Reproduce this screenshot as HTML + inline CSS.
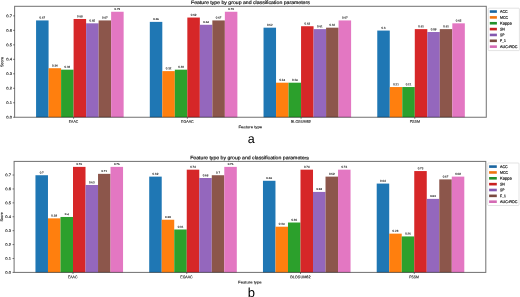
<!DOCTYPE html>
<html><head><meta charset="utf-8"><style>
html,body{margin:0;padding:0;background:#fff;width:520px;height:297px;overflow:hidden}
svg{display:block;will-change:transform}
text{font-family:"Liberation Sans",sans-serif;text-rendering:geometricPrecision}
.s{stroke:#333;stroke-width:0.14px}

.s3{stroke:#222;stroke-width:0.2px}

.s4{stroke:#222;stroke-width:0.2px}
.s2{stroke:#333;stroke-width:0.12px}
</style></head><body>
<svg width="520" height="297" viewBox="0 0 520 297">
<rect width="520" height="297" fill="#fff"/>
<rect x="36.07" y="20.43" width="12.51" height="96.82" fill="#1f77b4"/>
<rect x="48.58" y="68.22" width="12.51" height="49.03" fill="#ff7f0e"/>
<rect x="61.09" y="69.67" width="12.51" height="47.58" fill="#2ca02c"/>
<rect x="73.60" y="18.99" width="12.51" height="98.26" fill="#d62728"/>
<rect x="86.11" y="23.33" width="12.51" height="93.92" fill="#9467bd"/>
<rect x="98.62" y="20.43" width="12.51" height="96.82" fill="#8c564b"/>
<rect x="111.13" y="11.75" width="12.51" height="105.50" fill="#e377c2"/>
<rect x="149.80" y="21.88" width="12.51" height="95.37" fill="#1f77b4"/>
<rect x="162.31" y="71.11" width="12.51" height="46.14" fill="#ff7f0e"/>
<rect x="174.82" y="69.67" width="12.51" height="47.58" fill="#2ca02c"/>
<rect x="187.33" y="17.54" width="12.51" height="99.71" fill="#d62728"/>
<rect x="199.84" y="24.78" width="12.51" height="92.47" fill="#9467bd"/>
<rect x="212.35" y="20.43" width="12.51" height="96.82" fill="#8c564b"/>
<rect x="224.86" y="11.75" width="12.51" height="105.50" fill="#e377c2"/>
<rect x="263.53" y="27.67" width="12.51" height="89.58" fill="#1f77b4"/>
<rect x="276.04" y="82.70" width="12.51" height="34.55" fill="#ff7f0e"/>
<rect x="288.55" y="82.70" width="12.51" height="34.55" fill="#2ca02c"/>
<rect x="301.06" y="26.23" width="12.51" height="91.02" fill="#d62728"/>
<rect x="313.57" y="29.12" width="12.51" height="88.13" fill="#9467bd"/>
<rect x="326.08" y="27.67" width="12.51" height="89.58" fill="#8c564b"/>
<rect x="338.59" y="20.43" width="12.51" height="96.82" fill="#e377c2"/>
<rect x="377.26" y="30.57" width="12.51" height="86.68" fill="#1f77b4"/>
<rect x="389.77" y="87.04" width="12.51" height="30.21" fill="#ff7f0e"/>
<rect x="402.28" y="87.04" width="12.51" height="30.21" fill="#2ca02c"/>
<rect x="414.79" y="29.12" width="12.51" height="88.13" fill="#d62728"/>
<rect x="427.30" y="32.02" width="12.51" height="85.23" fill="#9467bd"/>
<rect x="439.81" y="29.12" width="12.51" height="88.13" fill="#8c564b"/>
<rect x="452.32" y="23.33" width="12.51" height="93.92" fill="#e377c2"/>
<text x="42.32" y="18.61" font-size="2.703" text-anchor="middle" textLength="5.68" lengthAdjust="spacingAndGlyphs" fill="#222" class="s2" transform="rotate(0.05 42.32 18.61)">0.67</text>
<text x="54.83" y="66.40" font-size="2.703" text-anchor="middle" textLength="5.68" lengthAdjust="spacingAndGlyphs" fill="#222" class="s2" transform="rotate(0.05 54.83 66.40)">0.34</text>
<text x="67.34" y="67.85" font-size="2.703" text-anchor="middle" textLength="5.68" lengthAdjust="spacingAndGlyphs" fill="#222" class="s2" transform="rotate(0.05 67.34 67.85)">0.33</text>
<text x="79.86" y="17.17" font-size="2.703" text-anchor="middle" textLength="5.68" lengthAdjust="spacingAndGlyphs" fill="#222" class="s2" transform="rotate(0.05 79.86 17.17)">0.68</text>
<text x="92.37" y="21.51" font-size="2.703" text-anchor="middle" textLength="5.68" lengthAdjust="spacingAndGlyphs" fill="#222" class="s2" transform="rotate(0.05 92.37 21.51)">0.65</text>
<text x="104.88" y="18.61" font-size="2.703" text-anchor="middle" textLength="5.68" lengthAdjust="spacingAndGlyphs" fill="#222" class="s2" transform="rotate(0.05 104.88 18.61)">0.67</text>
<text x="117.39" y="9.93" font-size="2.703" text-anchor="middle" textLength="5.68" lengthAdjust="spacingAndGlyphs" fill="#222" class="s2" transform="rotate(0.05 117.39 9.93)">0.73</text>
<text x="156.05" y="20.06" font-size="2.703" text-anchor="middle" textLength="5.68" lengthAdjust="spacingAndGlyphs" fill="#222" class="s2" transform="rotate(0.05 156.05 20.06)">0.66</text>
<text x="168.56" y="69.29" font-size="2.703" text-anchor="middle" textLength="5.68" lengthAdjust="spacingAndGlyphs" fill="#222" class="s2" transform="rotate(0.05 168.56 69.29)">0.32</text>
<text x="181.07" y="67.85" font-size="2.703" text-anchor="middle" textLength="5.68" lengthAdjust="spacingAndGlyphs" fill="#222" class="s2" transform="rotate(0.05 181.07 67.85)">0.33</text>
<text x="193.59" y="15.72" font-size="2.703" text-anchor="middle" textLength="5.68" lengthAdjust="spacingAndGlyphs" fill="#222" class="s2" transform="rotate(0.05 193.59 15.72)">0.69</text>
<text x="206.10" y="22.96" font-size="2.703" text-anchor="middle" textLength="5.68" lengthAdjust="spacingAndGlyphs" fill="#222" class="s2" transform="rotate(0.05 206.10 22.96)">0.64</text>
<text x="218.61" y="18.61" font-size="2.703" text-anchor="middle" textLength="5.68" lengthAdjust="spacingAndGlyphs" fill="#222" class="s2" transform="rotate(0.05 218.61 18.61)">0.67</text>
<text x="231.12" y="9.93" font-size="2.703" text-anchor="middle" textLength="5.68" lengthAdjust="spacingAndGlyphs" fill="#222" class="s2" transform="rotate(0.05 231.12 9.93)">0.73</text>
<text x="269.78" y="25.85" font-size="2.703" text-anchor="middle" textLength="5.68" lengthAdjust="spacingAndGlyphs" fill="#222" class="s2" transform="rotate(0.05 269.78 25.85)">0.62</text>
<text x="282.29" y="80.88" font-size="2.703" text-anchor="middle" textLength="5.68" lengthAdjust="spacingAndGlyphs" fill="#222" class="s2" transform="rotate(0.05 282.29 80.88)">0.24</text>
<text x="294.80" y="80.88" font-size="2.703" text-anchor="middle" textLength="5.68" lengthAdjust="spacingAndGlyphs" fill="#222" class="s2" transform="rotate(0.05 294.80 80.88)">0.24</text>
<text x="307.32" y="24.41" font-size="2.703" text-anchor="middle" textLength="5.68" lengthAdjust="spacingAndGlyphs" fill="#222" class="s2" transform="rotate(0.05 307.32 24.41)">0.63</text>
<text x="319.83" y="27.30" font-size="2.703" text-anchor="middle" textLength="5.68" lengthAdjust="spacingAndGlyphs" fill="#222" class="s2" transform="rotate(0.05 319.83 27.30)">0.61</text>
<text x="332.34" y="25.85" font-size="2.703" text-anchor="middle" textLength="5.68" lengthAdjust="spacingAndGlyphs" fill="#222" class="s2" transform="rotate(0.05 332.34 25.85)">0.62</text>
<text x="344.85" y="18.61" font-size="2.703" text-anchor="middle" textLength="5.68" lengthAdjust="spacingAndGlyphs" fill="#222" class="s2" transform="rotate(0.05 344.85 18.61)">0.67</text>
<text x="383.51" y="28.75" font-size="2.703" text-anchor="middle" textLength="4.06" lengthAdjust="spacingAndGlyphs" fill="#222" class="s2" transform="rotate(0.05 383.51 28.75)">0.6</text>
<text x="396.02" y="85.22" font-size="2.703" text-anchor="middle" textLength="5.68" lengthAdjust="spacingAndGlyphs" fill="#222" class="s2" transform="rotate(0.05 396.02 85.22)">0.21</text>
<text x="408.53" y="85.22" font-size="2.703" text-anchor="middle" textLength="5.68" lengthAdjust="spacingAndGlyphs" fill="#222" class="s2" transform="rotate(0.05 408.53 85.22)">0.21</text>
<text x="421.05" y="27.30" font-size="2.703" text-anchor="middle" textLength="5.68" lengthAdjust="spacingAndGlyphs" fill="#222" class="s2" transform="rotate(0.05 421.05 27.30)">0.61</text>
<text x="433.56" y="30.20" font-size="2.703" text-anchor="middle" textLength="5.68" lengthAdjust="spacingAndGlyphs" fill="#222" class="s2" transform="rotate(0.05 433.56 30.20)">0.59</text>
<text x="446.07" y="27.30" font-size="2.703" text-anchor="middle" textLength="5.68" lengthAdjust="spacingAndGlyphs" fill="#222" class="s2" transform="rotate(0.05 446.07 27.30)">0.61</text>
<text x="458.58" y="21.51" font-size="2.703" text-anchor="middle" textLength="5.68" lengthAdjust="spacingAndGlyphs" fill="#222" class="s2" transform="rotate(0.05 458.58 21.51)">0.65</text>
<rect x="14.63" y="6.30" width="471.64" height="110.95" fill="none" stroke="#000" stroke-opacity="0.56" stroke-width="1.0"/>
<line x1="13.03" y1="117.25" x2="14.63" y2="117.25" stroke="#000" stroke-opacity="0.6" stroke-width="0.8"/>
<text x="12.03" y="118.56" font-size="3.816" text-anchor="end" textLength="5.73" lengthAdjust="spacingAndGlyphs" fill="#222" class="s" transform="rotate(0.05 12.03 118.56)">0.0</text>
<line x1="13.03" y1="102.77" x2="14.63" y2="102.77" stroke="#000" stroke-opacity="0.6" stroke-width="0.8"/>
<text x="12.03" y="104.08" font-size="3.816" text-anchor="end" textLength="5.73" lengthAdjust="spacingAndGlyphs" fill="#222" class="s" transform="rotate(0.05 12.03 104.08)">0.1</text>
<line x1="13.03" y1="88.29" x2="14.63" y2="88.29" stroke="#000" stroke-opacity="0.6" stroke-width="0.8"/>
<text x="12.03" y="89.60" font-size="3.816" text-anchor="end" textLength="5.73" lengthAdjust="spacingAndGlyphs" fill="#222" class="s" transform="rotate(0.05 12.03 89.60)">0.2</text>
<line x1="13.03" y1="73.81" x2="14.63" y2="73.81" stroke="#000" stroke-opacity="0.6" stroke-width="0.8"/>
<text x="12.03" y="75.12" font-size="3.816" text-anchor="end" textLength="5.73" lengthAdjust="spacingAndGlyphs" fill="#222" class="s" transform="rotate(0.05 12.03 75.12)">0.3</text>
<line x1="13.03" y1="59.33" x2="14.63" y2="59.33" stroke="#000" stroke-opacity="0.6" stroke-width="0.8"/>
<text x="12.03" y="60.64" font-size="3.816" text-anchor="end" textLength="5.73" lengthAdjust="spacingAndGlyphs" fill="#222" class="s" transform="rotate(0.05 12.03 60.64)">0.4</text>
<line x1="13.03" y1="44.85" x2="14.63" y2="44.85" stroke="#000" stroke-opacity="0.6" stroke-width="0.8"/>
<text x="12.03" y="46.16" font-size="3.816" text-anchor="end" textLength="5.73" lengthAdjust="spacingAndGlyphs" fill="#222" class="s" transform="rotate(0.05 12.03 46.16)">0.5</text>
<line x1="13.03" y1="30.37" x2="14.63" y2="30.37" stroke="#000" stroke-opacity="0.6" stroke-width="0.8"/>
<text x="12.03" y="31.68" font-size="3.816" text-anchor="end" textLength="5.73" lengthAdjust="spacingAndGlyphs" fill="#222" class="s" transform="rotate(0.05 12.03 31.68)">0.6</text>
<line x1="13.03" y1="15.89" x2="14.63" y2="15.89" stroke="#000" stroke-opacity="0.6" stroke-width="0.8"/>
<text x="12.03" y="17.20" font-size="3.816" text-anchor="end" textLength="5.73" lengthAdjust="spacingAndGlyphs" fill="#222" class="s" transform="rotate(0.05 12.03 17.20)">0.7</text>
<line x1="73.60" y1="117.25" x2="73.60" y2="118.85" stroke="#000" stroke-opacity="0.6" stroke-width="0.8"/>
<text x="73.50" y="122.66" font-size="3.816" text-anchor="middle" textLength="9.30" lengthAdjust="spacingAndGlyphs" fill="#222" class="s" transform="rotate(0.05 73.50 122.66)">EAAC</text>
<line x1="187.33" y1="117.25" x2="187.33" y2="118.85" stroke="#000" stroke-opacity="0.6" stroke-width="0.8"/>
<text x="187.40" y="122.66" font-size="3.816" text-anchor="middle" textLength="12.60" lengthAdjust="spacingAndGlyphs" fill="#222" class="s" transform="rotate(0.05 187.40 122.66)">EGAAC</text>
<line x1="301.06" y1="117.25" x2="301.06" y2="118.85" stroke="#000" stroke-opacity="0.6" stroke-width="0.8"/>
<text x="300.85" y="122.66" font-size="3.816" text-anchor="middle" textLength="20.10" lengthAdjust="spacingAndGlyphs" fill="#222" class="s" transform="rotate(0.05 300.85 122.66)">BLOSUM62</text>
<line x1="414.79" y1="117.25" x2="414.79" y2="118.85" stroke="#000" stroke-opacity="0.6" stroke-width="0.8"/>
<text x="414.85" y="122.66" font-size="3.816" text-anchor="middle" textLength="10.30" lengthAdjust="spacingAndGlyphs" fill="#222" class="s" transform="rotate(0.05 414.85 122.66)">PSSM</text>
<text x="250.30" y="128.21" font-size="3.816" text-anchor="middle" textLength="23.80" lengthAdjust="spacingAndGlyphs" fill="#222" class="s" transform="rotate(0.05 250.30 128.21)">Feature type</text>
<text x="0" y="1.31" font-size="3.816" text-anchor="middle" textLength="10.10" lengthAdjust="spacingAndGlyphs" fill="#222" class="s" transform="translate(2.00,62.00) rotate(-89.95)">Score</text>
<text x="250.40" y="4.04" font-size="4.770" text-anchor="middle" textLength="118.80" lengthAdjust="spacingAndGlyphs" fill="#111" class="s4" transform="rotate(0.05 250.40 4.04)">Feature type by group and classification parameters</text>
<rect x="488.20" y="8.20" width="31.20" height="42.40" rx="0.8" fill="#fff" stroke="#d0d0d0" stroke-width="0.6"/>
<rect x="489.80" y="10.25" width="7.10" height="2.6" fill="#1a65a0"/>
<text x="500.00" y="12.86" font-size="3.816" text-anchor="start" textLength="7.70" lengthAdjust="spacingAndGlyphs" fill="#222" class="s3" transform="rotate(0.05 500.00 12.86)">ACC</text>
<rect x="489.80" y="16.10" width="7.10" height="2.6" fill="#f07410"/>
<text x="500.00" y="18.71" font-size="3.816" text-anchor="start" textLength="8.10" lengthAdjust="spacingAndGlyphs" fill="#222" class="s3" transform="rotate(0.05 500.00 18.71)">MCC</text>
<rect x="489.80" y="21.95" width="7.10" height="2.6" fill="#23902a"/>
<text x="500.00" y="24.56" font-size="3.816" text-anchor="start" textLength="11.70" lengthAdjust="spacingAndGlyphs" fill="#222" class="s3" transform="rotate(0.05 500.00 24.56)">Kappa</text>
<rect x="489.80" y="27.80" width="7.10" height="2.6" fill="#c82020"/>
<text x="500.00" y="30.41" font-size="3.816" text-anchor="start" textLength="4.90" lengthAdjust="spacingAndGlyphs" fill="#222" class="s3" transform="rotate(0.05 500.00 30.41)">SN</text>
<rect x="489.80" y="33.65" width="7.10" height="2.6" fill="#8458b0"/>
<text x="500.00" y="36.26" font-size="3.816" text-anchor="start" textLength="4.40" lengthAdjust="spacingAndGlyphs" fill="#222" class="s3" transform="rotate(0.05 500.00 36.26)">SP</text>
<rect x="489.80" y="39.50" width="7.10" height="2.6" fill="#7a4a40"/>
<text x="500.00" y="42.11" font-size="3.816" text-anchor="start" textLength="5.90" lengthAdjust="spacingAndGlyphs" fill="#222" class="s3" transform="rotate(0.05 500.00 42.11)">F_1</text>
<rect x="489.80" y="45.35" width="7.10" height="2.6" fill="#d46ab4"/>
<text x="500.00" y="47.96" font-size="3.816" text-anchor="start" textLength="17.50" lengthAdjust="spacingAndGlyphs" fill="#222" class="s3" transform="rotate(0.05 500.00 47.96)">AUC-ROC</text>
<text x="251.30" y="142.80" font-size="12.5" text-anchor="middle" fill="#000">a</text>
<rect x="35.46" y="175.23" width="12.51" height="97.17" fill="#1f77b4"/>
<rect x="47.98" y="218.35" width="12.51" height="54.05" fill="#ff7f0e"/>
<rect x="60.49" y="216.96" width="12.51" height="55.44" fill="#2ca02c"/>
<rect x="73.00" y="166.88" width="12.51" height="105.52" fill="#d62728"/>
<rect x="85.51" y="184.97" width="12.51" height="87.43" fill="#9467bd"/>
<rect x="98.03" y="173.84" width="12.51" height="98.56" fill="#8c564b"/>
<rect x="110.54" y="166.88" width="12.51" height="105.52" fill="#e377c2"/>
<rect x="149.21" y="176.62" width="12.51" height="95.78" fill="#1f77b4"/>
<rect x="161.72" y="219.74" width="12.51" height="52.66" fill="#ff7f0e"/>
<rect x="174.24" y="229.48" width="12.51" height="42.92" fill="#2ca02c"/>
<rect x="186.75" y="169.67" width="12.51" height="102.73" fill="#d62728"/>
<rect x="199.26" y="178.01" width="12.51" height="94.39" fill="#9467bd"/>
<rect x="211.78" y="175.23" width="12.51" height="97.17" fill="#8c564b"/>
<rect x="224.29" y="166.88" width="12.51" height="105.52" fill="#e377c2"/>
<rect x="262.96" y="180.79" width="12.51" height="91.61" fill="#1f77b4"/>
<rect x="275.48" y="226.70" width="12.51" height="45.70" fill="#ff7f0e"/>
<rect x="287.99" y="222.52" width="12.51" height="49.88" fill="#2ca02c"/>
<rect x="300.50" y="169.67" width="12.51" height="102.73" fill="#d62728"/>
<rect x="313.01" y="191.92" width="12.51" height="80.48" fill="#9467bd"/>
<rect x="325.52" y="176.62" width="12.51" height="95.78" fill="#8c564b"/>
<rect x="338.04" y="169.67" width="12.51" height="102.73" fill="#e377c2"/>
<rect x="376.71" y="183.58" width="12.51" height="88.82" fill="#1f77b4"/>
<rect x="389.23" y="233.65" width="12.51" height="38.75" fill="#ff7f0e"/>
<rect x="401.74" y="236.43" width="12.51" height="35.97" fill="#2ca02c"/>
<rect x="414.25" y="171.06" width="12.51" height="101.34" fill="#d62728"/>
<rect x="426.76" y="198.88" width="12.51" height="73.52" fill="#9467bd"/>
<rect x="439.27" y="179.40" width="12.51" height="93.00" fill="#8c564b"/>
<rect x="451.79" y="176.62" width="12.51" height="95.78" fill="#e377c2"/>
<text x="41.72" y="173.41" font-size="2.703" text-anchor="middle" textLength="4.06" lengthAdjust="spacingAndGlyphs" fill="#222" class="s2" transform="rotate(0.05 41.72 173.41)">0.7</text>
<text x="54.23" y="216.53" font-size="2.703" text-anchor="middle" textLength="5.68" lengthAdjust="spacingAndGlyphs" fill="#222" class="s2" transform="rotate(0.05 54.23 216.53)">0.39</text>
<text x="66.74" y="215.14" font-size="2.703" text-anchor="middle" textLength="4.06" lengthAdjust="spacingAndGlyphs" fill="#222" class="s2" transform="rotate(0.05 66.74 215.14)">0.4</text>
<text x="79.26" y="165.06" font-size="2.703" text-anchor="middle" textLength="5.68" lengthAdjust="spacingAndGlyphs" fill="#222" class="s2" transform="rotate(0.05 79.26 165.06)">0.76</text>
<text x="91.77" y="183.15" font-size="2.703" text-anchor="middle" textLength="5.68" lengthAdjust="spacingAndGlyphs" fill="#222" class="s2" transform="rotate(0.05 91.77 183.15)">0.63</text>
<text x="104.28" y="172.02" font-size="2.703" text-anchor="middle" textLength="5.68" lengthAdjust="spacingAndGlyphs" fill="#222" class="s2" transform="rotate(0.05 104.28 172.02)">0.71</text>
<text x="116.79" y="165.06" font-size="2.703" text-anchor="middle" textLength="5.68" lengthAdjust="spacingAndGlyphs" fill="#222" class="s2" transform="rotate(0.05 116.79 165.06)">0.76</text>
<text x="155.47" y="174.80" font-size="2.703" text-anchor="middle" textLength="5.68" lengthAdjust="spacingAndGlyphs" fill="#222" class="s2" transform="rotate(0.05 155.47 174.80)">0.69</text>
<text x="167.98" y="217.92" font-size="2.703" text-anchor="middle" textLength="5.68" lengthAdjust="spacingAndGlyphs" fill="#222" class="s2" transform="rotate(0.05 167.98 217.92)">0.38</text>
<text x="180.49" y="227.66" font-size="2.703" text-anchor="middle" textLength="5.68" lengthAdjust="spacingAndGlyphs" fill="#222" class="s2" transform="rotate(0.05 180.49 227.66)">0.31</text>
<text x="193.01" y="167.85" font-size="2.703" text-anchor="middle" textLength="5.68" lengthAdjust="spacingAndGlyphs" fill="#222" class="s2" transform="rotate(0.05 193.01 167.85)">0.74</text>
<text x="205.52" y="176.19" font-size="2.703" text-anchor="middle" textLength="5.68" lengthAdjust="spacingAndGlyphs" fill="#222" class="s2" transform="rotate(0.05 205.52 176.19)">0.68</text>
<text x="218.03" y="173.41" font-size="2.703" text-anchor="middle" textLength="4.06" lengthAdjust="spacingAndGlyphs" fill="#222" class="s2" transform="rotate(0.05 218.03 173.41)">0.7</text>
<text x="230.54" y="165.06" font-size="2.703" text-anchor="middle" textLength="5.68" lengthAdjust="spacingAndGlyphs" fill="#222" class="s2" transform="rotate(0.05 230.54 165.06)">0.76</text>
<text x="269.22" y="178.97" font-size="2.703" text-anchor="middle" textLength="5.68" lengthAdjust="spacingAndGlyphs" fill="#222" class="s2" transform="rotate(0.05 269.22 178.97)">0.66</text>
<text x="281.73" y="224.88" font-size="2.703" text-anchor="middle" textLength="5.68" lengthAdjust="spacingAndGlyphs" fill="#222" class="s2" transform="rotate(0.05 281.73 224.88)">0.33</text>
<text x="294.24" y="220.70" font-size="2.703" text-anchor="middle" textLength="5.68" lengthAdjust="spacingAndGlyphs" fill="#222" class="s2" transform="rotate(0.05 294.24 220.70)">0.36</text>
<text x="306.76" y="167.85" font-size="2.703" text-anchor="middle" textLength="5.68" lengthAdjust="spacingAndGlyphs" fill="#222" class="s2" transform="rotate(0.05 306.76 167.85)">0.74</text>
<text x="319.27" y="190.10" font-size="2.703" text-anchor="middle" textLength="5.68" lengthAdjust="spacingAndGlyphs" fill="#222" class="s2" transform="rotate(0.05 319.27 190.10)">0.58</text>
<text x="331.78" y="174.80" font-size="2.703" text-anchor="middle" textLength="5.68" lengthAdjust="spacingAndGlyphs" fill="#222" class="s2" transform="rotate(0.05 331.78 174.80)">0.69</text>
<text x="344.29" y="167.85" font-size="2.703" text-anchor="middle" textLength="5.68" lengthAdjust="spacingAndGlyphs" fill="#222" class="s2" transform="rotate(0.05 344.29 167.85)">0.74</text>
<text x="382.97" y="181.76" font-size="2.703" text-anchor="middle" textLength="5.68" lengthAdjust="spacingAndGlyphs" fill="#222" class="s2" transform="rotate(0.05 382.97 181.76)">0.64</text>
<text x="395.48" y="231.83" font-size="2.703" text-anchor="middle" textLength="5.68" lengthAdjust="spacingAndGlyphs" fill="#222" class="s2" transform="rotate(0.05 395.48 231.83)">0.28</text>
<text x="407.99" y="234.61" font-size="2.703" text-anchor="middle" textLength="5.68" lengthAdjust="spacingAndGlyphs" fill="#222" class="s2" transform="rotate(0.05 407.99 234.61)">0.26</text>
<text x="420.51" y="169.24" font-size="2.703" text-anchor="middle" textLength="5.68" lengthAdjust="spacingAndGlyphs" fill="#222" class="s2" transform="rotate(0.05 420.51 169.24)">0.73</text>
<text x="433.02" y="197.06" font-size="2.703" text-anchor="middle" textLength="5.68" lengthAdjust="spacingAndGlyphs" fill="#222" class="s2" transform="rotate(0.05 433.02 197.06)">0.53</text>
<text x="445.53" y="177.58" font-size="2.703" text-anchor="middle" textLength="5.68" lengthAdjust="spacingAndGlyphs" fill="#222" class="s2" transform="rotate(0.05 445.53 177.58)">0.67</text>
<text x="458.04" y="174.80" font-size="2.703" text-anchor="middle" textLength="5.68" lengthAdjust="spacingAndGlyphs" fill="#222" class="s2" transform="rotate(0.05 458.04 174.80)">0.69</text>
<rect x="14.10" y="161.40" width="471.70" height="111.00" fill="none" stroke="#000" stroke-opacity="0.56" stroke-width="1.0"/>
<line x1="12.50" y1="272.40" x2="14.10" y2="272.40" stroke="#000" stroke-opacity="0.6" stroke-width="0.8"/>
<text x="11.00" y="273.71" font-size="3.816" text-anchor="end" textLength="5.73" lengthAdjust="spacingAndGlyphs" fill="#222" class="s" transform="rotate(0.05 11.00 273.71)">0.0</text>
<line x1="12.50" y1="258.49" x2="14.10" y2="258.49" stroke="#000" stroke-opacity="0.6" stroke-width="0.8"/>
<text x="11.00" y="259.80" font-size="3.816" text-anchor="end" textLength="5.73" lengthAdjust="spacingAndGlyphs" fill="#222" class="s" transform="rotate(0.05 11.00 259.80)">0.1</text>
<line x1="12.50" y1="244.58" x2="14.10" y2="244.58" stroke="#000" stroke-opacity="0.6" stroke-width="0.8"/>
<text x="11.00" y="245.89" font-size="3.816" text-anchor="end" textLength="5.73" lengthAdjust="spacingAndGlyphs" fill="#222" class="s" transform="rotate(0.05 11.00 245.89)">0.2</text>
<line x1="12.50" y1="230.67" x2="14.10" y2="230.67" stroke="#000" stroke-opacity="0.6" stroke-width="0.8"/>
<text x="11.00" y="231.98" font-size="3.816" text-anchor="end" textLength="5.73" lengthAdjust="spacingAndGlyphs" fill="#222" class="s" transform="rotate(0.05 11.00 231.98)">0.3</text>
<line x1="12.50" y1="216.76" x2="14.10" y2="216.76" stroke="#000" stroke-opacity="0.6" stroke-width="0.8"/>
<text x="11.00" y="218.07" font-size="3.816" text-anchor="end" textLength="5.73" lengthAdjust="spacingAndGlyphs" fill="#222" class="s" transform="rotate(0.05 11.00 218.07)">0.4</text>
<line x1="12.50" y1="202.85" x2="14.10" y2="202.85" stroke="#000" stroke-opacity="0.6" stroke-width="0.8"/>
<text x="11.00" y="204.16" font-size="3.816" text-anchor="end" textLength="5.73" lengthAdjust="spacingAndGlyphs" fill="#222" class="s" transform="rotate(0.05 11.00 204.16)">0.5</text>
<line x1="12.50" y1="188.94" x2="14.10" y2="188.94" stroke="#000" stroke-opacity="0.6" stroke-width="0.8"/>
<text x="11.00" y="190.25" font-size="3.816" text-anchor="end" textLength="5.73" lengthAdjust="spacingAndGlyphs" fill="#222" class="s" transform="rotate(0.05 11.00 190.25)">0.6</text>
<line x1="12.50" y1="175.03" x2="14.10" y2="175.03" stroke="#000" stroke-opacity="0.6" stroke-width="0.8"/>
<text x="11.00" y="176.34" font-size="3.816" text-anchor="end" textLength="5.73" lengthAdjust="spacingAndGlyphs" fill="#222" class="s" transform="rotate(0.05 11.00 176.34)">0.7</text>
<line x1="73.00" y1="272.40" x2="73.00" y2="274.00" stroke="#000" stroke-opacity="0.6" stroke-width="0.8"/>
<text x="72.70" y="278.21" font-size="3.816" text-anchor="middle" textLength="9.40" lengthAdjust="spacingAndGlyphs" fill="#222" class="s" transform="rotate(0.05 72.70 278.21)">EAAC</text>
<line x1="186.75" y1="272.40" x2="186.75" y2="274.00" stroke="#000" stroke-opacity="0.6" stroke-width="0.8"/>
<text x="186.45" y="278.21" font-size="3.816" text-anchor="middle" textLength="12.30" lengthAdjust="spacingAndGlyphs" fill="#222" class="s" transform="rotate(0.05 186.45 278.21)">EGAAC</text>
<line x1="300.50" y1="272.40" x2="300.50" y2="274.00" stroke="#000" stroke-opacity="0.6" stroke-width="0.8"/>
<text x="300.40" y="278.21" font-size="3.816" text-anchor="middle" textLength="20.40" lengthAdjust="spacingAndGlyphs" fill="#222" class="s" transform="rotate(0.05 300.40 278.21)">BLOSUM62</text>
<line x1="414.25" y1="272.40" x2="414.25" y2="274.00" stroke="#000" stroke-opacity="0.6" stroke-width="0.8"/>
<text x="414.00" y="278.21" font-size="3.816" text-anchor="middle" textLength="9.70" lengthAdjust="spacingAndGlyphs" fill="#222" class="s" transform="rotate(0.05 414.00 278.21)">PSSM</text>
<text x="249.85" y="283.51" font-size="3.816" text-anchor="middle" textLength="23.50" lengthAdjust="spacingAndGlyphs" fill="#222" class="s" transform="rotate(0.05 249.85 283.51)">Feature type</text>
<text x="0" y="1.31" font-size="3.816" text-anchor="middle" textLength="9.20" lengthAdjust="spacingAndGlyphs" fill="#222" class="s" transform="translate(1.80,216.90) rotate(-89.95)">Score</text>
<text x="249.55" y="159.34" font-size="4.770" text-anchor="middle" textLength="118.70" lengthAdjust="spacingAndGlyphs" fill="#111" class="s4" transform="rotate(0.05 249.55 159.34)">Feature type by group and classification parameters</text>
<rect x="487.70" y="163.00" width="31.30" height="42.50" rx="0.8" fill="#fff" stroke="#d0d0d0" stroke-width="0.6"/>
<rect x="489.10" y="165.30" width="7.70" height="2.6" fill="#1a65a0"/>
<text x="500.00" y="167.91" font-size="3.816" text-anchor="start" textLength="7.70" lengthAdjust="spacingAndGlyphs" fill="#222" class="s3" transform="rotate(0.05 500.00 167.91)">ACC</text>
<rect x="489.10" y="171.15" width="7.70" height="2.6" fill="#f07410"/>
<text x="500.00" y="173.76" font-size="3.816" text-anchor="start" textLength="8.10" lengthAdjust="spacingAndGlyphs" fill="#222" class="s3" transform="rotate(0.05 500.00 173.76)">MCC</text>
<rect x="489.10" y="177.00" width="7.70" height="2.6" fill="#23902a"/>
<text x="500.00" y="179.61" font-size="3.816" text-anchor="start" textLength="11.70" lengthAdjust="spacingAndGlyphs" fill="#222" class="s3" transform="rotate(0.05 500.00 179.61)">Kappa</text>
<rect x="489.10" y="182.85" width="7.70" height="2.6" fill="#c82020"/>
<text x="500.00" y="185.46" font-size="3.816" text-anchor="start" textLength="4.90" lengthAdjust="spacingAndGlyphs" fill="#222" class="s3" transform="rotate(0.05 500.00 185.46)">SN</text>
<rect x="489.10" y="188.70" width="7.70" height="2.6" fill="#8458b0"/>
<text x="500.00" y="191.31" font-size="3.816" text-anchor="start" textLength="4.40" lengthAdjust="spacingAndGlyphs" fill="#222" class="s3" transform="rotate(0.05 500.00 191.31)">SP</text>
<rect x="489.10" y="194.55" width="7.70" height="2.6" fill="#7a4a40"/>
<text x="500.00" y="197.16" font-size="3.816" text-anchor="start" textLength="5.90" lengthAdjust="spacingAndGlyphs" fill="#222" class="s3" transform="rotate(0.05 500.00 197.16)">F_1</text>
<rect x="489.10" y="200.40" width="7.70" height="2.6" fill="#d46ab4"/>
<text x="500.00" y="203.01" font-size="3.816" text-anchor="start" textLength="17.50" lengthAdjust="spacingAndGlyphs" fill="#222" class="s3" transform="rotate(0.05 500.00 203.01)">AUC-ROC</text>
<text x="251.30" y="297.00" font-size="13.0" text-anchor="middle" fill="#000">b</text>
</svg>
</body></html>
